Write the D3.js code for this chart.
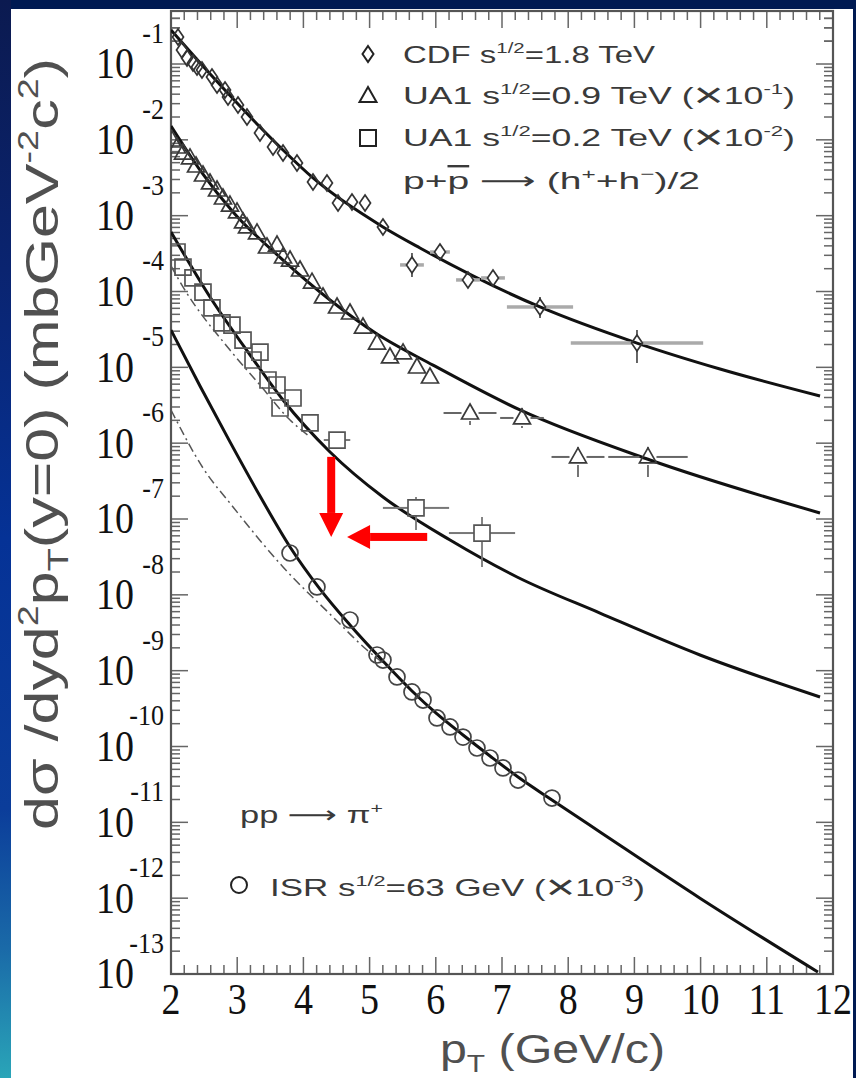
<!DOCTYPE html>
<html><head><meta charset="utf-8">
<script src="https://cdn.jsdelivr.net/npm/d3@7"></script>
<style>html,body{margin:0;padding:0;background:#fff;}svg{display:block;}</style>
</head><body>
<svg id="chart" width="856" height="1078"></svg>
<script>
// ---------------- data ----------------
const xTickLabels = ['2','3','4','5','6','7','8','9','10','11','12'];
const yTickExponents = [-1,-2,-3,-4,-5,-6,-7,-8,-9,-10,-11,-12,-13];

// [pT, dσ/dyd²pT, pT half-width, lower, upper]
const cdf = [
  [2.106,0.227],[2.166,0.153],[2.242,0.120],[2.332,0.103],[2.393,0.0914],[2.468,0.0834],
  [2.619,0.0675],[2.695,0.0528],[2.816,0.0454],[2.861,0.0367],[3.012,0.0288],[3.148,0.0200],
  [3.344,0.0123],[3.541,0.00805],[3.692,0.00670],[3.903,0.00496],[4.145,0.00278],[4.356,0.00270],
  [4.523,0.00147],[4.734,0.00151],[4.931,0.00147],[5.202,7.10e-4],
  [5.640,2.24e-4,0.18,1.55e-4,3.22e-4],[6.063,3.32e-4,0.15],[6.486,1.42e-4,0.18,1.15e-4,1.75e-4],
  [6.864,1.51e-4,0.18],[7.574,6.25e-5,0.5,4.48e-5,8.47e-5],[9.039,2.09e-5,1.0,1.14e-5,3.10e-5]
];
const ua1_900 = [
  [2.015,9.95e-3],[2.091,8.05e-3],[2.181,6.70e-3],[2.287,5.77e-3],[2.378,4.52e-3],[2.483,3.44e-3],
  [2.589,2.70e-3],[2.695,2.18e-3],[2.785,1.71e-3],[2.891,1.38e-3],[2.997,1.12e-3],[3.088,8.26e-4],
  [3.148,7.10e-4],[3.299,5.92e-4],[3.450,3.86e-4],[3.601,4.10e-4],[3.692,2.85e-4],[3.798,2.60e-4],
  [3.949,1.92e-4],[4.130,1.33e-4],[4.296,8.47e-5],[4.508,6.25e-5],[4.704,5.21e-5],[4.900,3.40e-5],
  [5.112,2.09e-5],[5.308,1.37e-5],[5.505,1.55e-5],[5.716,1.01e-5],[5.912,7.46e-6],
  [6.517,2.50e-6,0.4,1.74e-6,3.18e-6],[7.302,2.15e-6,0.33,1.58e-6,2.91e-6],
  [8.148,6.58e-7,0.4,3.58e-7,8.89e-7],[9.205,6.58e-7,0.6,3.58e-7,8.89e-7]
];
const ua1_200 = [
  [2.091,3.32e-4],[2.181,2.10e-4],[2.332,1.51e-4],[2.483,9.84e-5],[2.619,6.07e-5],[2.770,3.85e-5],
  [2.921,3.61e-5],[3.088,2.29e-5],[3.239,1.25e-5],[3.344,1.59e-5],[3.465,6.81e-6],[3.601,5.85e-6],
  [3.647,2.91e-6],[3.843,3.94e-6],[4.100,1.85e-6],[4.508,1.10e-6,0.2],
  [5.701,1.40e-7,0.5,7.16e-8,1.95e-7],[6.698,6.53e-8,0.5,2.33e-8,1.06e-7]
];
const isr63 = [
  [3.798,3.56e-8],[4.205,1.27e-8],[4.704,4.66e-9],[5.112,1.61e-9],[5.202,1.38e-9],[5.414,8.26e-10],
  [5.640,5.24e-10],[5.807,4.10e-10],[6.018,2.38e-10],[6.215,1.81e-10],[6.411,1.33e-10],[6.622,9.55e-11],
  [6.819,7.05e-11],[7.015,5.21e-11],[7.242,3.61e-11],[7.755,2.09e-11]
];

// fitted curves, sampled along pT
const fitCdf = [[2.0,0.281],[2.619,0.0695],[3.012,0.0297],[3.344,0.01476],[3.692,7.34e-3],
  [4.145,3.14e-3],[5.202,7.10e-4],[5.761,3.75e-4],[7.574,6.25e-5],[9.039,2.09e-5],[10.293,9.51e-6],[11.804,4.19e-6]];
const fitUa1_900 = [[2.0,0.01524],[2.438,4.00e-3],[2.937,1.12e-3],[3.692,2.60e-4],[4.402,7.73e-5],
  [5.112,2.75e-5],[5.958,1.07e-5],[7.272,2.74e-6],[9.236,6.00e-7],[11.804,1.20e-7]];
const fitUa1_200 = [[2.0,6.10e-4],[2.589,8.47e-5],[3.193,1.46e-5],[3.692,3.71e-6],[4.402,7.66e-7],
  [5.202,1.95e-7],[6.215,5.28e-8],[7.227,1.72e-8],[8.480,5.75e-9],[9.991,1.61e-9],[11.804,4.50e-10]];
const fitIsr = [[2.0,3.10e-5],[2.438,5.68e-6],[2.891,1.04e-6],[3.344,2.01e-7],[3.798,4.28e-8],
  [4.251,1.19e-8],[4.704,4.00e-9],[5.202,1.34e-9],[5.640,5.40e-10],[6.018,2.69e-10],[6.411,1.42e-10],
  [6.819,7.50e-11],[7.242,3.96e-11],[7.755,1.97e-11],[8.480,7.46e-12],[9.991,1.00e-12],[11.773,1.06e-13]];
// alternative (dash-dot) curves
const altUa1_200 = [[2.0,2.17e-4],[2.181,1.15e-4],[2.891,1.69e-5],[3.344,5.85e-6],[3.798,2.02e-6],[4.100,1.21e-6]];
const altIsr = [[2.0,2.74e-6],[2.483,4.71e-7],[2.937,1.44e-7],[3.692,2.33e-8],[4.447,5.10e-9],[4.961,1.87e-9],[5.308,1.08e-9]];

// annotation arrows (pT, value)
const arrowDown = [[4.42,6.6e-7],[4.42,5.8e-8]];
const arrowLeft = [[5.87,5.8e-8],[4.66,5.8e-8]];

// ---------------- drawing ----------------
const W = 856, H = 1078;
const svg = d3.select('#chart');
const defs = svg.append('defs');

const grad = defs.append('linearGradient').attr('id','edgeGrad')
  .attr('x1',0).attr('y1',0).attr('x2',0).attr('y2',1);
[[0,'#0b1a50'],[0.25,'#0a2470'],[0.5,'#053296'],[0.75,'#0b3d9a'],[0.88,'#1a6aa8'],[1,'#2aa5b8']]
  .forEach(([o,c]) => grad.append('stop').attr('offset',o).attr('stop-color',c));

svg.append('rect').attr('width',W).attr('height',H).attr('fill','#001a52');
svg.append('rect').attr('x',0).attr('y',0).attr('width',11).attr('height',H).attr('fill','url(#edgeGrad)');
svg.append('rect').attr('x',11).attr('y',9).attr('width',842).attr('height',H-9).attr('fill','#fff');

const x = d3.scaleLinear().domain([2,12]).range([171,833]);
const y = d3.scaleLog().domain([1e-13,0.5]).range([974,11]);
const [x0,x1] = x.range(), [y0,y1] = y.range();

defs.append('clipPath').attr('id','plotClip').append('rect')
  .attr('x',x0).attr('y',y1).attr('width',x1-x0).attr('height',y0-y1);

// ---- axes: frame, ticks, labels ----
const axis = svg.append('g');
const tickCol = '#666';
const majorLen = 17, minorLen = 9;

d3.range(0, 51).forEach(i => {
  const px = x(2 + i*0.2);
  const len = (i % 5 === 0) ? majorLen : minorLen;
  axis.append('line').attr('x1',px).attr('x2',px).attr('y1',y0).attr('y2',y0-len)
    .attr('stroke',tickCol).attr('stroke-width',1.5);
  axis.append('line').attr('x1',px).attr('x2',px).attr('y1',y1).attr('y2',y1+len)
    .attr('stroke',tickCol).attr('stroke-width',1.5);
});
const yTickVals = [];
yTickExponents.forEach(e => {
  for (let k = 1; k <= 9; k++) {
    const v = k * Math.pow(10, e);
    if (v <= 0.5) yTickVals.push([v, k === 1]);
  }
});
[0.2,0.3,0.4].forEach(v => yTickVals.push([v,false]));
yTickVals.forEach(([v, major]) => {
  const py = y(v);
  const len = major ? majorLen : minorLen;
  axis.append('line').attr('x1',x0).attr('x2',x0+len).attr('y1',py).attr('y2',py)
    .attr('stroke',tickCol).attr('stroke-width',1.5);
  axis.append('line').attr('x1',x1).attr('x2',x1-len).attr('y1',py).attr('y2',py)
    .attr('stroke',tickCol).attr('stroke-width',1.5);
});
axis.append('rect').attr('x',x0).attr('y',y1).attr('width',x1-x0).attr('height',y0-y1)
  .attr('fill','none').attr('stroke','#555').attr('stroke-width',2.2);

const serif = '"Liberation Serif", "DejaVu Serif", serif';
xTickLabels.forEach(s => {
  axis.append('text').attr('transform',`translate(${x(+s)},1000) scale(1,1.15)`)
    .attr('y',12.5).attr('text-anchor','middle')
    .attr('font-family',serif).attr('font-size',38).attr('fill','#111').text(s);
});
yTickExponents.forEach(e => {
  const py = y(Math.pow(10, e));
  axis.append('text').attr('transform',`translate(134,${py}) scale(1,1.15)`)
    .attr('y',12.5).attr('text-anchor','end')
    .attr('font-family',serif).attr('font-size',38).attr('fill','#111').text('10');
  axis.append('text').attr('transform',`translate(164,${py-31}) scale(1,1.15)`)
    .attr('y',8.6).attr('text-anchor','end')
    .attr('font-family',serif).attr('font-size',26).attr('fill','#111').text(String(e));
});

// rich text helper: parts = [[string, 'n'|'sup'|'sub'|'big'|'arrow'], ...]
function rich(parent, parts, size) {
  const t = parent.append('text').attr('font-size', size);
  let off = 0;
  parts.forEach(([s, k]) => {
    let target = 0;
    if (k === 'sup') target = -0.42*size;
    if (k === 'sub') target = 0.22*size;
    if (k === 'big') target = 0.12*size;
    const ts = t.append('tspan').attr('dy', target - off).text(s);
    if (k === 'sup' || k === 'sub') ts.attr('font-size', size*0.62);
    if (k === 'big') ts.attr('font-size', size*1.45);
    if (k === 'arrow') ts.attr('font-family','"DejaVu Sans", sans-serif');
    off = target;
  });
  return t;
}
const sans = '"Liberation Sans", Arial, sans-serif';

// axis titles
rich(svg, [['dσ /dyd','n'],['2','sup'],['p','n'],['T','sub'],['(y=0) (mbGeV','n'],['-2','sup'],['c','n'],['2','sup'],[')','n']], 47)
  .attr('transform','translate(58,830) rotate(-90)')
  .attr('font-family',sans).attr('fill','#505050')
  .attr('textLength',772).attr('lengthAdjust','spacingAndGlyphs');
rich(svg, [['p','n'],['T','sub'],[' (GeV/c)','n']], 40)
  .attr('x',440).attr('y',1063)
  .attr('font-family',sans).attr('fill','#505050')
  .attr('textLength',225).attr('lengthAdjust','spacingAndGlyphs');

// ---- plot contents ----
const plot = svg.append('g').attr('clip-path','url(#plotClip)');

const line = d3.line().x(d => x(d[0])).y(d => y(d[1])).curve(d3.curveMonotoneX);
[altUa1_200, altIsr].forEach(c => plot.append('path').attr('d', line(c))
  .attr('fill','none').attr('stroke','#555').attr('stroke-width',1.5)
  .attr('stroke-dasharray','9,4,2,4'));
[fitCdf, fitUa1_900, fitUa1_200, fitIsr].forEach(c => plot.append('path').attr('d', line(c))
  .attr('fill','none').attr('stroke','#111').attr('stroke-width',3));

// marker shapes with their half extents
const shapes = {
  diamond: { hw: 5.5, hh: 8, d: (cx,cy) => `M${cx},${cy-8}L${cx+5.5},${cy}L${cx},${cy+8}L${cx-5.5},${cy}Z` },
  triangle: { hw: 8.5, hh: 8, d: (cx,cy) => `M${cx},${cy-9}L${cx+8.5},${cy+6}L${cx-8.5},${cy+6}Z` },
  square: { hw: 8, hh: 8, d: (cx,cy) => `M${cx-8},${cy-8}h16v16h-16Z` },
  circle: { hw: 8, hh: 8, d: (cx,cy) => `M${cx-8},${cy}a8,8 0 1,0 16,0a8,8 0 1,0 -16,0Z` }
};

function drawSeries(data, shape, col, hCol, hW, vCol) {
  const g = plot.append('g');
  const s = shapes[shape];
  data.forEach(d => {
    const px = x(d[0]), py = y(d[1]);
    if (d[2]) {
      const xl = x(d[0]-d[2]), xr = x(d[0]+d[2]);
      [[xl, px - s.hw], [px + s.hw, xr]].forEach(([a,b]) => { if (b > a)
        g.append('line').attr('x1',a).attr('x2',b).attr('y1',py).attr('y2',py)
          .attr('stroke',hCol).attr('stroke-width',hW); });
    }
    if (d[3]) {
      const yt = y(d[4]), yb = y(d[3]);
      [[yt, py - s.hh], [py + s.hh, yb]].forEach(([a,b]) => { if (b > a)
        g.append('line').attr('x1',px).attr('x2',px).attr('y1',a).attr('y2',b)
          .attr('stroke',vCol).attr('stroke-width',1.8); });
    }
  });
  data.forEach(d => {
    g.append('path').attr('d', s.d(x(d[0]), y(d[1])))
      .attr('fill','none').attr('stroke',col).attr('stroke-width',1.7);
  });
}
drawSeries(cdf, 'diamond', '#333', '#aaa', 3.5, '#555');
drawSeries(ua1_900, 'triangle', '#3a3a3a', '#666', 2, '#666');
drawSeries(ua1_200, 'square', '#555', '#777', 2, '#777');
drawSeries(isr63, 'circle', '#444', '#777', 2, '#777');

// ---- legends ----
const leg = svg.append('g').attr('font-family',sans).attr('fill','#3a3a3a');
const legRows = [
  ['diamond', 54, 63, [['CDF s','n'],['1/2','sup'],['=1.8 TeV','n']], 252],
  ['triangle', 96, 104, [['UA1 s','n'],['1/2','sup'],['=0.9 TeV (','n'],['×','big'],['10','n'],['-1','sup'],[')','n']], 392],
  ['square', 138, 146, [['UA1 s','n'],['1/2','sup'],['=0.2 TeV (','n'],['×','big'],['10','n'],['-2','sup'],[')','n']], 392]
];
legRows.forEach(([shape, my, by, parts, len]) => {
  leg.append('path').attr('d', shapes[shape].d(368, my)).attr('fill','none')
    .attr('stroke','#222').attr('stroke-width',2);
  rich(leg, parts, 24).attr('x',403).attr('y',by)
    .attr('textLength',len).attr('lengthAdjust','spacingAndGlyphs');
});
const ppb = leg.append('text').attr('x',403).attr('y',189).attr('font-size',24)
  .attr('textLength',297).attr('lengthAdjust','spacingAndGlyphs');
ppb.append('tspan').text('p+');
ppb.append('tspan').attr('text-decoration','overline').text('p');
ppb.append('tspan').text(' ');
ppb.append('tspan').attr('font-family','"DejaVu Sans", sans-serif').text('⟶');
ppb.append('tspan').text(' (h');
ppb.append('tspan').attr('dy',-10).attr('font-size',15).text('+');
ppb.append('tspan').attr('dy',10).text('+h');
ppb.append('tspan').attr('dy',-10).attr('font-size',15).text('−');
ppb.append('tspan').attr('dy',10).text(')/2');

rich(leg, [['pp ','n'],['⟶','arrow'],[' π','n'],['+','sup']], 24).attr('x',240).attr('y',823)
  .attr('textLength',143).attr('lengthAdjust','spacingAndGlyphs');
leg.append('path').attr('d', shapes.circle.d(239, 885)).attr('fill','none')
  .attr('stroke','#222').attr('stroke-width',2);
rich(leg, [['ISR s','n'],['1/2','sup'],['=63 GeV (','n'],['×','big'],['10','n'],['-3','sup'],[')','n']], 24)
  .attr('x',270).attr('y',896)
  .attr('textLength',375).attr('lengthAdjust','spacingAndGlyphs');

// ---- red arrows ----
const arrows = svg.append('g').attr('fill','#ff0000');
{
  const ax = x(arrowDown[0][0]), ya = y(arrowDown[0][1]), yb = y(arrowDown[1][1]);
  arrows.append('rect').attr('x',ax-4).attr('y',ya).attr('width',8).attr('height',yb-ya-24);
  arrows.append('path').attr('d',`M${ax-12},${yb-24}L${ax+12},${yb-24}L${ax},${yb}Z`);
}
{
  const xa = x(arrowLeft[0][0]), xb = x(arrowLeft[1][0]), ay = y(arrowLeft[0][1]);
  arrows.append('rect').attr('x',xb+23).attr('y',ay-4).attr('width',xa-xb-23).attr('height',8);
  arrows.append('path').attr('d',`M${xb+23},${ay-12}L${xb+23},${ay+12}L${xb},${ay}Z`);
}
</script></body></html>
